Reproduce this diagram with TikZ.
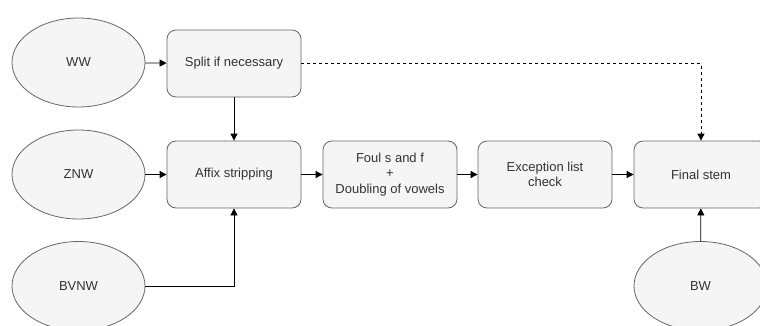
\documentclass[tikz,border=0pt]{standalone}
\usepackage{fontspec}
\setmainfont{Liberation Sans}
\usetikzlibrary{shapes.geometric,arrows.meta}
\definecolor{boxfill}{HTML}{F5F5F5}
\definecolor{boxline}{HTML}{666666}
\definecolor{txt}{HTML}{333333}
\tikzset{
  base/.style={draw=boxline, fill=boxfill, line width=0.8pt, text=txt, font=\fontsize{13}{15.5}\selectfont, align=center, inner sep=0pt},
  procbox/.style={base, rectangle, rounded corners=9pt, minimum width=134pt, minimum height=67pt},
  inellipse/.style={base, ellipse, minimum width=133pt, minimum height=89pt},
  conn/.style={line width=0.8pt, black, -{Triangle[length=7pt,width=7pt]}},
  dashconn/.style={conn, dash pattern=on 3pt off 3pt}
}
\begin{document}
\begin{tikzpicture}[x=1pt,y=-1pt]
\useasboundingbox (0,0) rectangle (760,325);
\node[inellipse] (ww) at (78.5,62.5) {WW};
\node[inellipse] (znw) at (78.5,174.5) {ZNW};
\node[inellipse] (bvnw) at (78.5,286) {BVNW};
\node[inellipse] (bw) at (700.5,286) {BW};
\node[procbox] (split) at (234,63.5) {Split if necessary};
\node[procbox] (affix) at (234,174.5) {Affix stripping};
\node[procbox] (foul) at (390,174.5) {Foul s and f\\+\\Doubling of vowels};
\node[procbox] (exc) at (545,174.5) {Exception list\\check};
\node[procbox] (final) at (701,174.5) {Final stem};
\draw[conn] (ww) -- (split);
\draw[conn] (split) -- (affix);
\draw[conn] (znw) -- (affix);
\draw[conn] (affix) -- (foul);
\draw[conn] (foul) -- (exc);
\draw[conn] (exc) -- (final);
\draw[conn] (bvnw.east) -| (affix.south);
\draw[conn] (bw) -- (final);
\draw[dashconn] (split.east) -| (final.north);
\end{tikzpicture}
\end{document}
